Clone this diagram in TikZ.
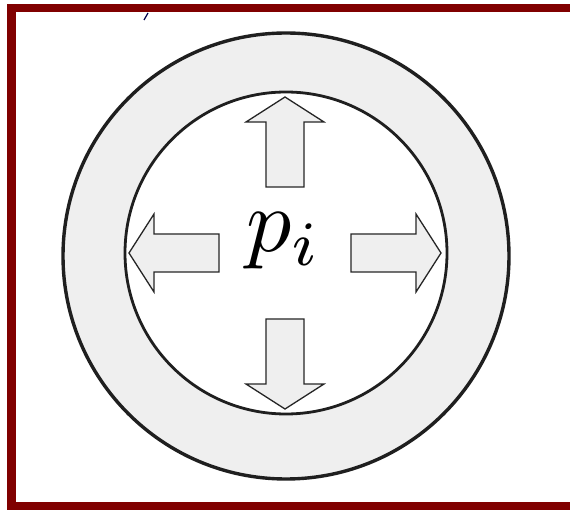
\documentclass[tikz,border=0pt]{standalone}
\usepackage{tikz}
\usetikzlibrary{positioning, calc}
\usepackage{xcolor}
\definecolor{frameRed}{HTML}{800000}
\definecolor{ringGray}{HTML}{EFEFEF}

\tikzset{
    pushArrow/.style={draw=black!85, line width=1.3pt, fill=ringGray, line join=miter}
}

\begin{document}
\begin{tikzpicture}[x=1pt, y=-1pt]
    \useasboundingbox (0,0) rectangle (570,510);

    % Frame
    \draw[frameRed, line width=8.5pt] (580,8) -- (11.5,8) -- (11.5,506.5) -- (580,506.5);
    \draw[black!70!blue, line width=1.2pt] (144,20) -- (148,13);

    % Ring
    \coordinate (c) at (286,256);
    \fill[ringGray] (c) circle (223);
    \draw[black!88, line width=3.4pt] (c) circle (223);
    \draw[black!88, line width=2.8pt, fill=white] (286,253) circle (161);

    % Arrows
    \coordinate (m) at (285,253);
    \foreach \a in {0,90,180,270} {
        \draw[pushArrow, shift={(m)}, rotate=\a]
            (66,-19) -- (131,-19) -- (131,-39) -- (156,0) -- (131,39) -- (131,19) -- (66,19) -- cycle;
    }

    % Label
    \node[anchor=base, inner sep=0pt, scale=9] (pi) at (284,252) {$p_i$};
\end{tikzpicture}
\end{document}
